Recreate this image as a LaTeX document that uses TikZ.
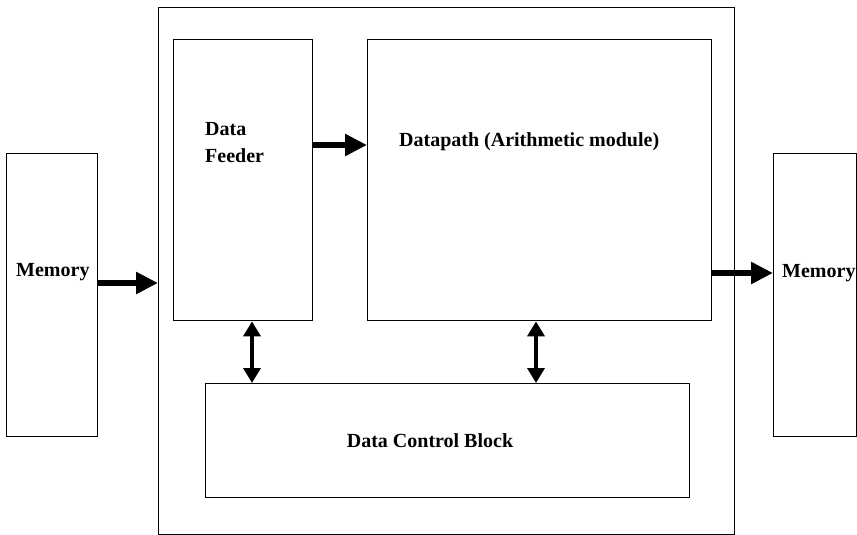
\documentclass[tikz,border=0pt]{standalone}
\usepackage{fontspec}
\setmainfont{Liberation Serif}
\usetikzlibrary{arrows.meta,positioning}

\begin{document}
\begin{tikzpicture}[
		x=1pt, y=-1pt,
		box/.style={draw, line width=1.4pt, inner sep=0pt, anchor=north west},
		lbl/.style={font=\fontsize{20}{27}\selectfont\bfseries, inner sep=0pt, align=left},
		arr/.style={line width=5.5pt, -{Triangle[length=22pt, width=21pt]}},
		dbl/.style={line width=3.5pt, {Triangle[length=15pt, width=17pt]}-{Triangle[length=15pt, width=17pt]}}]

	\useasboundingbox (0,0) rectangle (857,535);

	% outer chip block
	\node[box, minimum width=576pt, minimum height=527pt] (chip) at (158,7) {};

	% memories
	\node[box, minimum width=91pt, minimum height=283pt] (memin)  at (6,153) {};
	\node[box, minimum width=83pt, minimum height=283pt] (memout) at (773,153) {};
	\node[lbl, anchor=west] (memintxt)  at (16,272) {Memory};
	\node[lbl, anchor=west] (memouttxt) at (782,273) {Memory};

	% inner blocks
	\node[box, minimum width=139pt, minimum height=281pt] (feeder) at (173,39) {};
	\node[box, minimum width=344pt, minimum height=281pt] (dpath)  at (367,39) {};
	\node[box, minimum width=484pt, minimum height=114pt] (ctrl)   at (205,383) {};
	\node[lbl, anchor=north west] (feedertxt) at (205,122) {Data\\Feeder};
	\node[lbl, anchor=west] (dpathtxt) at (399,142) {Datapath (Arithmetic module)};
	\node[lbl] (ctrltxt) at (430,441) {Data Control Block};

	% data flow
	\coordinate (inlvl)  at (0,283);
	\coordinate (fdlvl)  at (0,145);
	\coordinate (outlvl) at (0,273);
	\draw[arr] (memin.east |- inlvl) -- (chip.west |- inlvl);
	\draw[arr] (feeder.east |- fdlvl) -- (dpath.west |- fdlvl);
	\draw[arr] (dpath.east |- outlvl) -- (memout.west |- outlvl);

	% control links
	\coordinate (lnka) at (252,0);
	\coordinate (lnkb) at (536,0);
	\draw[dbl] (feeder.south -| lnka) -- (ctrl.north -| lnka);
	\draw[dbl] (dpath.south -| lnkb) -- (ctrl.north -| lnkb);

\end{tikzpicture}
\end{document}
